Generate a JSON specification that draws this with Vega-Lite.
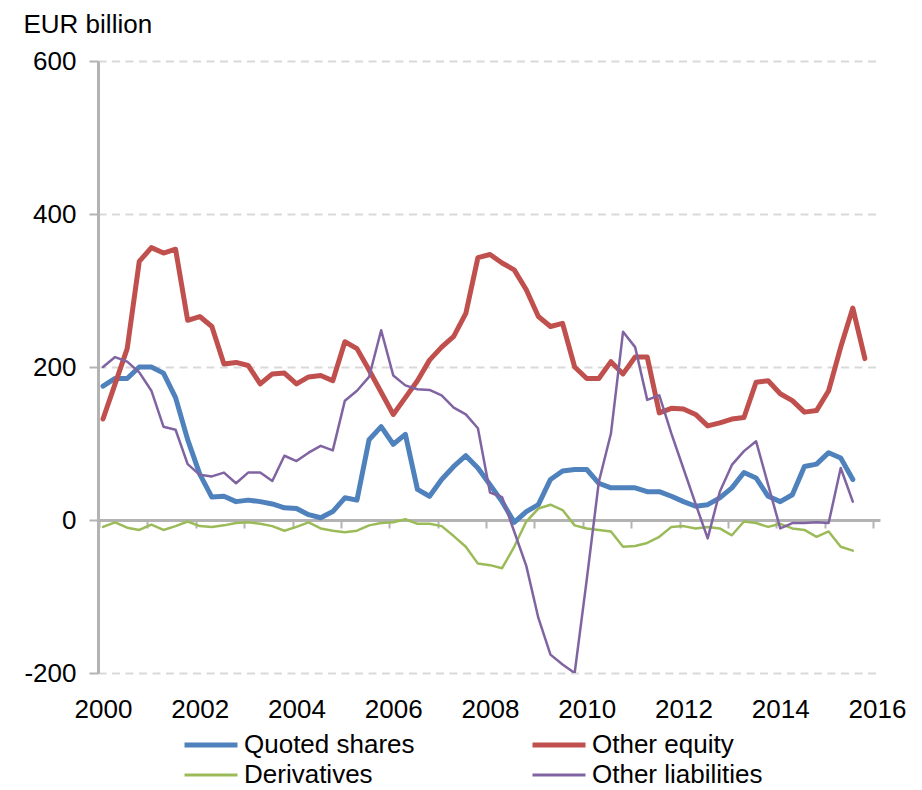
{
  "$schema": "https://vega.github.io/schema/vega-lite/v6.json",
  "width": 782,
  "height": 612,
  "autosize": {"type": "none"},
  "padding": {"left": 98, "top": 61, "right": 42, "bottom": 117},
  "background": "white",
  "config": {"view": {"stroke": null}, "font": "Liberation Sans"},
  "data": {"values": [
    {"date":2000,"series":"Quoted shares","value":175},{"date":2000.25,"series":"Quoted shares","value":185},{"date":2000.5,"series":"Quoted shares","value":185},{"date":2000.75,"series":"Quoted shares","value":200},
    {"date":2001,"series":"Quoted shares","value":200},{"date":2001.25,"series":"Quoted shares","value":192},{"date":2001.5,"series":"Quoted shares","value":160},{"date":2001.75,"series":"Quoted shares","value":105},
    {"date":2002,"series":"Quoted shares","value":60},{"date":2002.25,"series":"Quoted shares","value":30},{"date":2002.5,"series":"Quoted shares","value":31},{"date":2002.75,"series":"Quoted shares","value":24},
    {"date":2003,"series":"Quoted shares","value":26},{"date":2003.25,"series":"Quoted shares","value":24},{"date":2003.5,"series":"Quoted shares","value":21},{"date":2003.75,"series":"Quoted shares","value":16},
    {"date":2004,"series":"Quoted shares","value":15},{"date":2004.25,"series":"Quoted shares","value":7},{"date":2004.5,"series":"Quoted shares","value":3},{"date":2004.75,"series":"Quoted shares","value":11},
    {"date":2005,"series":"Quoted shares","value":29},{"date":2005.25,"series":"Quoted shares","value":26},{"date":2005.5,"series":"Quoted shares","value":105},{"date":2005.75,"series":"Quoted shares","value":122},
    {"date":2006,"series":"Quoted shares","value":99},{"date":2006.25,"series":"Quoted shares","value":112},{"date":2006.5,"series":"Quoted shares","value":40},{"date":2006.75,"series":"Quoted shares","value":31},
    {"date":2007,"series":"Quoted shares","value":53},{"date":2007.25,"series":"Quoted shares","value":70},{"date":2007.5,"series":"Quoted shares","value":84},{"date":2007.75,"series":"Quoted shares","value":68},
    {"date":2008,"series":"Quoted shares","value":46},{"date":2008.25,"series":"Quoted shares","value":24},{"date":2008.5,"series":"Quoted shares","value":-3},{"date":2008.75,"series":"Quoted shares","value":11},
    {"date":2009,"series":"Quoted shares","value":20},{"date":2009.25,"series":"Quoted shares","value":53},{"date":2009.5,"series":"Quoted shares","value":64},{"date":2009.75,"series":"Quoted shares","value":66},
    {"date":2010,"series":"Quoted shares","value":66},{"date":2010.25,"series":"Quoted shares","value":48},{"date":2010.5,"series":"Quoted shares","value":42},{"date":2010.75,"series":"Quoted shares","value":42},
    {"date":2011,"series":"Quoted shares","value":42},{"date":2011.25,"series":"Quoted shares","value":37},{"date":2011.5,"series":"Quoted shares","value":37},{"date":2011.75,"series":"Quoted shares","value":31},
    {"date":2012,"series":"Quoted shares","value":24},{"date":2012.25,"series":"Quoted shares","value":18},{"date":2012.5,"series":"Quoted shares","value":20},{"date":2012.75,"series":"Quoted shares","value":29},
    {"date":2013,"series":"Quoted shares","value":42},{"date":2013.25,"series":"Quoted shares","value":62},{"date":2013.5,"series":"Quoted shares","value":55},{"date":2013.75,"series":"Quoted shares","value":31},
    {"date":2014,"series":"Quoted shares","value":24},{"date":2014.25,"series":"Quoted shares","value":33},{"date":2014.5,"series":"Quoted shares","value":70},{"date":2014.75,"series":"Quoted shares","value":73},
    {"date":2015,"series":"Quoted shares","value":88},{"date":2015.25,"series":"Quoted shares","value":81},{"date":2015.5,"series":"Quoted shares","value":53},

    {"date":2000,"series":"Other equity","value":132},{"date":2000.25,"series":"Other equity","value":178},{"date":2000.5,"series":"Other equity","value":224},{"date":2000.75,"series":"Other equity","value":338},
    {"date":2001,"series":"Other equity","value":356},{"date":2001.25,"series":"Other equity","value":349},{"date":2001.5,"series":"Other equity","value":354},{"date":2001.75,"series":"Other equity","value":261},
    {"date":2002,"series":"Other equity","value":266},{"date":2002.25,"series":"Other equity","value":253},{"date":2002.5,"series":"Other equity","value":204},{"date":2002.75,"series":"Other equity","value":206},
    {"date":2003,"series":"Other equity","value":202},{"date":2003.25,"series":"Other equity","value":178},{"date":2003.5,"series":"Other equity","value":191},{"date":2003.75,"series":"Other equity","value":192},
    {"date":2004,"series":"Other equity","value":178},{"date":2004.25,"series":"Other equity","value":187},{"date":2004.5,"series":"Other equity","value":189},{"date":2004.75,"series":"Other equity","value":182},
    {"date":2005,"series":"Other equity","value":233},{"date":2005.25,"series":"Other equity","value":224},{"date":2005.5,"series":"Other equity","value":196},{"date":2005.75,"series":"Other equity","value":167},
    {"date":2006,"series":"Other equity","value":138},{"date":2006.25,"series":"Other equity","value":160},{"date":2006.5,"series":"Other equity","value":182},{"date":2006.75,"series":"Other equity","value":209},
    {"date":2007,"series":"Other equity","value":226},{"date":2007.25,"series":"Other equity","value":240},{"date":2007.5,"series":"Other equity","value":270},{"date":2007.75,"series":"Other equity","value":343},
    {"date":2008,"series":"Other equity","value":347},{"date":2008.25,"series":"Other equity","value":336},{"date":2008.5,"series":"Other equity","value":327},{"date":2008.75,"series":"Other equity","value":301},
    {"date":2009,"series":"Other equity","value":266},{"date":2009.25,"series":"Other equity","value":253},{"date":2009.5,"series":"Other equity","value":257},{"date":2009.75,"series":"Other equity","value":200},
    {"date":2010,"series":"Other equity","value":185},{"date":2010.25,"series":"Other equity","value":185},{"date":2010.5,"series":"Other equity","value":207},{"date":2010.75,"series":"Other equity","value":191},
    {"date":2011,"series":"Other equity","value":213},{"date":2011.25,"series":"Other equity","value":213},{"date":2011.5,"series":"Other equity","value":140},{"date":2011.75,"series":"Other equity","value":146},
    {"date":2012,"series":"Other equity","value":145},{"date":2012.25,"series":"Other equity","value":138},{"date":2012.5,"series":"Other equity","value":123},{"date":2012.75,"series":"Other equity","value":127},
    {"date":2013,"series":"Other equity","value":132},{"date":2013.25,"series":"Other equity","value":134},{"date":2013.5,"series":"Other equity","value":180},{"date":2013.75,"series":"Other equity","value":182},
    {"date":2014,"series":"Other equity","value":165},{"date":2014.25,"series":"Other equity","value":156},{"date":2014.5,"series":"Other equity","value":141},{"date":2014.75,"series":"Other equity","value":143},
    {"date":2015,"series":"Other equity","value":169},{"date":2015.25,"series":"Other equity","value":226},{"date":2015.5,"series":"Other equity","value":277},{"date":2015.75,"series":"Other equity","value":211},

    {"date":2000,"series":"Derivatives","value":-9},{"date":2000.25,"series":"Derivatives","value":-3},{"date":2000.5,"series":"Derivatives","value":-10},{"date":2000.75,"series":"Derivatives","value":-13},
    {"date":2001,"series":"Derivatives","value":-6},{"date":2001.25,"series":"Derivatives","value":-13},{"date":2001.5,"series":"Derivatives","value":-8},{"date":2001.75,"series":"Derivatives","value":-2},
    {"date":2002,"series":"Derivatives","value":-8},{"date":2002.25,"series":"Derivatives","value":-9},{"date":2002.5,"series":"Derivatives","value":-7},{"date":2002.75,"series":"Derivatives","value":-4},
    {"date":2003,"series":"Derivatives","value":-3},{"date":2003.25,"series":"Derivatives","value":-5},{"date":2003.5,"series":"Derivatives","value":-8},{"date":2003.75,"series":"Derivatives","value":-14},
    {"date":2004,"series":"Derivatives","value":-9},{"date":2004.25,"series":"Derivatives","value":-3},{"date":2004.5,"series":"Derivatives","value":-11},{"date":2004.75,"series":"Derivatives","value":-14},
    {"date":2005,"series":"Derivatives","value":-16},{"date":2005.25,"series":"Derivatives","value":-14},{"date":2005.5,"series":"Derivatives","value":-7},{"date":2005.75,"series":"Derivatives","value":-4},
    {"date":2006,"series":"Derivatives","value":-3},{"date":2006.25,"series":"Derivatives","value":1},{"date":2006.5,"series":"Derivatives","value":-5},{"date":2006.75,"series":"Derivatives","value":-5},
    {"date":2007,"series":"Derivatives","value":-8},{"date":2007.25,"series":"Derivatives","value":-21},{"date":2007.5,"series":"Derivatives","value":-35},{"date":2007.75,"series":"Derivatives","value":-57},
    {"date":2008,"series":"Derivatives","value":-59},{"date":2008.25,"series":"Derivatives","value":-63},{"date":2008.5,"series":"Derivatives","value":-35},{"date":2008.75,"series":"Derivatives","value":-2},
    {"date":2009,"series":"Derivatives","value":15},{"date":2009.25,"series":"Derivatives","value":20},{"date":2009.5,"series":"Derivatives","value":13},{"date":2009.75,"series":"Derivatives","value":-7},
    {"date":2010,"series":"Derivatives","value":-11},{"date":2010.25,"series":"Derivatives","value":-13},{"date":2010.5,"series":"Derivatives","value":-15},{"date":2010.75,"series":"Derivatives","value":-35},
    {"date":2011,"series":"Derivatives","value":-34},{"date":2011.25,"series":"Derivatives","value":-30},{"date":2011.5,"series":"Derivatives","value":-22},{"date":2011.75,"series":"Derivatives","value":-9},
    {"date":2012,"series":"Derivatives","value":-8},{"date":2012.25,"series":"Derivatives","value":-11},{"date":2012.5,"series":"Derivatives","value":-9},{"date":2012.75,"series":"Derivatives","value":-11},
    {"date":2013,"series":"Derivatives","value":-20},{"date":2013.25,"series":"Derivatives","value":-2},{"date":2013.5,"series":"Derivatives","value":-4},{"date":2013.75,"series":"Derivatives","value":-9},
    {"date":2014,"series":"Derivatives","value":-5},{"date":2014.25,"series":"Derivatives","value":-11},{"date":2014.5,"series":"Derivatives","value":-13},{"date":2014.75,"series":"Derivatives","value":-22},
    {"date":2015,"series":"Derivatives","value":-15},{"date":2015.25,"series":"Derivatives","value":-35},{"date":2015.5,"series":"Derivatives","value":-40},

    {"date":2000,"series":"Other liabilities","value":200},{"date":2000.25,"series":"Other liabilities","value":213},{"date":2000.5,"series":"Other liabilities","value":207},{"date":2000.75,"series":"Other liabilities","value":193},
    {"date":2001,"series":"Other liabilities","value":169},{"date":2001.25,"series":"Other liabilities","value":122},{"date":2001.5,"series":"Other liabilities","value":118},{"date":2001.75,"series":"Other liabilities","value":73},
    {"date":2002,"series":"Other liabilities","value":59},{"date":2002.25,"series":"Other liabilities","value":57},{"date":2002.5,"series":"Other liabilities","value":62},{"date":2002.75,"series":"Other liabilities","value":48},
    {"date":2003,"series":"Other liabilities","value":62},{"date":2003.25,"series":"Other liabilities","value":62},{"date":2003.5,"series":"Other liabilities","value":51},{"date":2003.75,"series":"Other liabilities","value":84},
    {"date":2004,"series":"Other liabilities","value":77},{"date":2004.25,"series":"Other liabilities","value":88},{"date":2004.5,"series":"Other liabilities","value":97},{"date":2004.75,"series":"Other liabilities","value":91},
    {"date":2005,"series":"Other liabilities","value":156},{"date":2005.25,"series":"Other liabilities","value":169},{"date":2005.5,"series":"Other liabilities","value":187},{"date":2005.75,"series":"Other liabilities","value":248},
    {"date":2006,"series":"Other liabilities","value":189},{"date":2006.25,"series":"Other liabilities","value":176},{"date":2006.5,"series":"Other liabilities","value":171},{"date":2006.75,"series":"Other liabilities","value":170},
    {"date":2007,"series":"Other liabilities","value":163},{"date":2007.25,"series":"Other liabilities","value":147},{"date":2007.5,"series":"Other liabilities","value":138},{"date":2007.75,"series":"Other liabilities","value":120},
    {"date":2008,"series":"Other liabilities","value":36},{"date":2008.25,"series":"Other liabilities","value":30},{"date":2008.5,"series":"Other liabilities","value":-15},{"date":2008.75,"series":"Other liabilities","value":-60},
    {"date":2009,"series":"Other liabilities","value":-128},{"date":2009.25,"series":"Other liabilities","value":-176},{"date":2009.5,"series":"Other liabilities","value":-189},{"date":2009.75,"series":"Other liabilities","value":-200},
    {"date":2010,"series":"Other liabilities","value":-78},{"date":2010.25,"series":"Other liabilities","value":50},{"date":2010.5,"series":"Other liabilities","value":113},{"date":2010.75,"series":"Other liabilities","value":246},
    {"date":2011,"series":"Other liabilities","value":226},{"date":2011.25,"series":"Other liabilities","value":157},{"date":2011.5,"series":"Other liabilities","value":163},{"date":2011.75,"series":"Other liabilities","value":113},
    {"date":2012,"series":"Other liabilities","value":67},{"date":2012.25,"series":"Other liabilities","value":21},{"date":2012.5,"series":"Other liabilities","value":-24},{"date":2012.75,"series":"Other liabilities","value":37},
    {"date":2013,"series":"Other liabilities","value":72},{"date":2013.25,"series":"Other liabilities","value":90},{"date":2013.5,"series":"Other liabilities","value":103},{"date":2013.75,"series":"Other liabilities","value":46},
    {"date":2014,"series":"Other liabilities","value":-11},{"date":2014.25,"series":"Other liabilities","value":-4},{"date":2014.5,"series":"Other liabilities","value":-4},{"date":2014.75,"series":"Other liabilities","value":-3},
    {"date":2015,"series":"Other liabilities","value":-4},{"date":2015.25,"series":"Other liabilities","value":68},{"date":2015.5,"series":"Other liabilities","value":24}
  ]},
  "mark": {"type": "line", "clip": true, "strokeJoin": "round", "strokeCap": "round"},
  "encoding": {
    "x": {
      "field": "date", "type": "quantitative",
      "scale": {"domain": [1999.8966, 2016.062], "nice": false, "zero": false},
      "axis": {
        "title": null,
        "values": [2000,2001,2002,2003,2004,2005,2006,2007,2008,2009,2010,2011,2012,2013,2014,2015,2016],
        "offset": -153,
        "domainColor": "#b3b3b3", "domainWidth": 3,
        "tickColor": "#b3b3b3", "tickWidth": 2, "tickSize": 8, "tickOffset": -4,
        "labelOffset": 4, "labelPadding": 168,
        "labelFontSize": 26, "labelColor": "#000000",
        "labelExpr": "datum.value % 2 == 0 ? '' + datum.value : ''",
        "labelOverlap": false, "labelFlush": false,
        "grid": false
      }
    },
    "y": {
      "field": "value", "type": "quantitative",
      "scale": {"domain": [-200, 600], "nice": false},
      "axis": {
        "title": "EUR billion", "titleAngle": 0, "titleX": -75, "titleY": -29,
        "titleAlign": "left", "titleBaseline": "alphabetic",
        "titleFontSize": 26, "titleFontWeight": "normal", "titleColor": "#000000",
        "values": [-200, 0, 200, 400, 600],
        "labelExpr": "datum.value < 0 ? '-' + abs(datum.value) : '' + datum.value",
        "domainColor": "#b3b3b3", "domainWidth": 3,
        "tickColor": "#b3b3b3", "tickWidth": 2, "tickSize": 9,
        "labelPadding": 13, "labelFontSize": 26, "labelColor": "#000000",
        "grid": true, "gridDash": [8, 5.5], "gridColor": "#d9d9d9", "gridWidth": 2
      }
    },
    "color": {
      "field": "series", "type": "nominal",
      "scale": {
        "domain": ["Quoted shares", "Other equity", "Derivatives", "Other liabilities"],
        "range": ["#4f81bd", "#c0504d", "#9bbb59", "#8064a2"]
      },
      "legend": {
        "title": null, "orient": "none", "legendX": 100, "legendY": 671,
        "direction": "horizontal", "columns": 2,
        "symbolType": "stroke", "symbolSize": 2809, "symbolStrokeWidth": 5,
        "labelFontSize": 26, "labelColor": "#000000", "labelOffset": 20,
        "columnPadding": 107, "rowPadding": 4, "labelLimit": 400,
        "encode": {"symbols": {"update": {"strokeWidth": {"signal": "indexof(['Quoted shares','Other equity'], datum.value) >= 0 ? 5 : 3"}}}}
      }
    },
    "strokeWidth": {
      "condition": {"test": "datum.series === 'Quoted shares' || datum.series === 'Other equity'", "value": 5},
      "value": 2.5
    }
  }
}
